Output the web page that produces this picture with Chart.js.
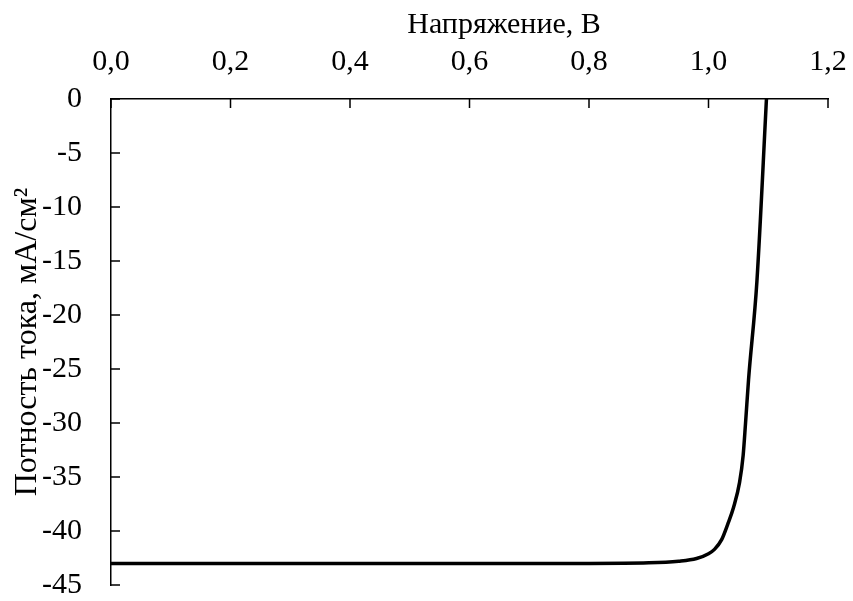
<!DOCTYPE html>
<html>
<head>
  <meta charset="UTF-8">
  <title>ВАХ</title>
  <script src="https://cdn.jsdelivr.net/npm/chart.js"></script>
  <style>
    html, body { margin: 0; padding: 0; background: #fff; }
    #wrap { width: 853px; height: 601px; position: relative; }
  </style>
</head>
<body>
  <div id="wrap"><canvas id="chart"></canvas></div>

  <script>
    // напряжение (В) и плотность тока (мА/см2)
    const voltage = [0, 0.2, 0.4, 0.6, 0.8, 0.9, 0.95, 0.98, 1.0, 1.01, 1.022, 1.032, 1.042, 1.052, 1.058, 1.062, 1.067, 1.081, 1.097];
    const current = [-43.0, -43.0, -43.0, -43.0, -43.0, -42.95, -42.8, -42.55, -42.1, -41.7, -40.8, -39.4, -37.8, -35.5, -33.0, -30.0, -26.0, -16.9, 0];

    const xTitle = "Напряжение, В";
    const yTitle = "Потность тока, мА/см²";
    const xMin = 0, xMax = 1.2, xStep = 0.2;
    const yMin = -45, yMax = 0, yStep = 5;

    const FONT = "'Liberation Serif', 'Times New Roman', serif";

    // без лишних отступов под подписи - область графика ставим сами
    function noPad(s) {
      s.paddingLeft = 0; s.paddingRight = 0;
      s.paddingTop = 0; s.paddingBottom = 0;
    }

    // тики внутрь и подписи осей
    const axisDecor = {
      id: "axisDecor",
      afterDraw(chart) {
        const ctx = chart.ctx;
        const xs = chart.scales.x;
        const ys = chart.scales.y;
        const top = ys.getPixelForValue(yMax);
        const left = xs.getPixelForValue(xMin);
        ctx.save();
        ctx.strokeStyle = "#000";
        ctx.lineWidth = 1.5;
        ctx.beginPath();
        xs.ticks.forEach(t => {
          const px = xs.getPixelForValue(t.value);
          ctx.moveTo(px, top);
          ctx.lineTo(px, top + 9);
        });
        ys.ticks.forEach(t => {
          const py = ys.getPixelForValue(t.value);
          ctx.moveTo(left, py);
          ctx.lineTo(left + 9, py);
        });
        ctx.stroke();

        ctx.fillStyle = "#000";
        ctx.textAlign = "center";
        ctx.textBaseline = "alphabetic";
        ctx.font = "30px " + FONT;
        ctx.fillText(xTitle, 504, 33);

        ctx.font = "32px " + FONT;
        ctx.translate(36, 342);
        ctx.rotate(-Math.PI / 2);
        ctx.fillText(yTitle, 0, 0);
        ctx.restore();
      }
    };

    const ctx = document.getElementById("chart").getContext("2d");
    new Chart(ctx, {
      type: "line",
      data: {
        datasets: [{
          data: voltage.map((v, i) => ({ x: v, y: current[i] })),
          borderColor: "#000",
          borderWidth: 3.5,
          pointRadius: 0,
          fill: false,
          cubicInterpolationMode: "monotone"
        }]
      },
      options: {
        animation: false,
        responsive: true,
        maintainAspectRatio: false,
        layout: { padding: { left: 0, top: 0, right: 25, bottom: 16 } },
        scales: {
          x: {
            type: "linear",
            position: "top",
            min: xMin,
            max: xMax,
            afterFit: s => { s.height = 99; noPad(s); },
            grid: { display: false, drawTicks: false },
            border: { display: true, color: "#000", width: 1.5 },
            ticks: {
              stepSize: xStep,
              padding: 19,
              color: "#000",
              font: { family: FONT, size: 30 },
              maxRotation: 0,
              callback: v => v.toFixed(1).replace(".", ",")
            }
          },
          y: {
            type: "linear",
            min: yMin,
            max: yMax,
            afterFit: s => { s.width = 111; noPad(s); },
            grid: { display: false, drawTicks: false },
            border: { display: true, color: "#000", width: 1.5 },
            ticks: {
              stepSize: yStep,
              padding: 29,
              color: "#000",
              font: { family: FONT, size: 30 },
              callback: v => String(v)
            }
          }
        },
        plugins: {
          legend: { display: false },
          tooltip: { enabled: false }
        }
      },
      plugins: [axisDecor]
    });
  </script>
</body>
</html>
